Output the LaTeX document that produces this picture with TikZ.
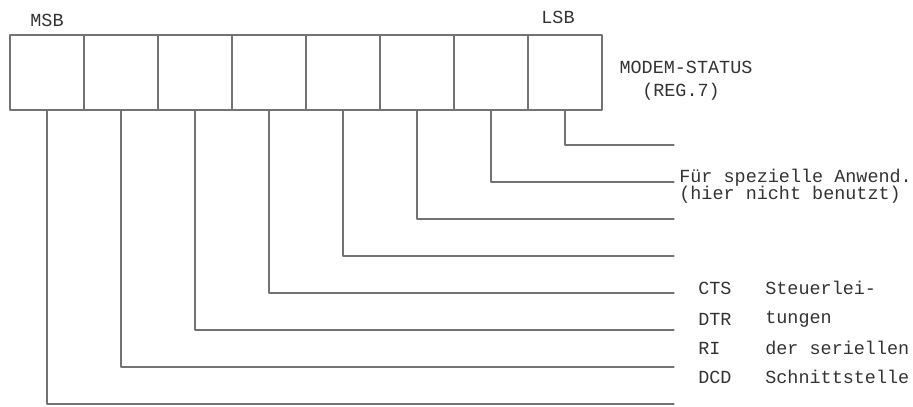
\documentclass[tikz,border=0pt]{standalone}
\usepackage{fontspec}
\setmonofont{Liberation Mono}
\begin{document}
\begin{tikzpicture}[x=0.02cm, y=-0.02cm, font=\ttfamily\fontsize{10.5}{12}\selectfont, line join=round, line cap=round]
	\tikzset{bitcell/.style={draw=black!55, line width=0.7pt, minimum width=1.48cm, minimum height=1.5cm, inner sep=0pt, outer sep=0pt},
		wire/.style={draw=black!55, line width=0.7pt},
		lbl/.style={text=black!80, inner sep=0pt, anchor=west}}
	\useasboundingbox (0,0) rectangle (913,406);
	% register cells, bit 7 on the left
	\foreach \i in {0,...,7}
		\node[bitcell] (b\i) at ({47+74*(7-\i)},72.5) {};
	\node[text=black!80, inner sep=0pt] (msb) at (47,20) {MSB};
	\node[text=black!80, inner sep=0pt] (lsb) at (558,17) {LSB};
	\node[text=black!80, inner sep=0pt] (reg) at (686,67) {MODEM-STATUS};
	\node[text=black!80, inner sep=0pt] (regnr) at (681,92) {(REG.7)};
	% leads from the bits
	\foreach \i in {0,...,7} {
		\coordinate (e\i) at (674,{145+37*\i});
		\draw[wire] (b\i.south) |- (e\i);
	}
	\node[lbl] (anw) at (679,178) {Für spezielle Anwend.};
	\node[lbl] (anw2) at (679,195) {(hier nicht benutzt)};
	\node[lbl] (cts) at (698,288) {CTS};
	\node[lbl] (dtr) at (698,319) {DTR};
	\node[lbl] (ri) at (698,348) {RI};
	\node[lbl] (dcd) at (698,377) {DCD};
	\node[lbl] (t1) at (765,288) {Steuerlei-};
	\node[lbl] (t2) at (765,319) {tungen};
	\node[lbl] (t3) at (765,348) {der seriellen};
	\node[lbl] (t4) at (765,377) {Schnittstelle};
\end{tikzpicture}
\end{document}
